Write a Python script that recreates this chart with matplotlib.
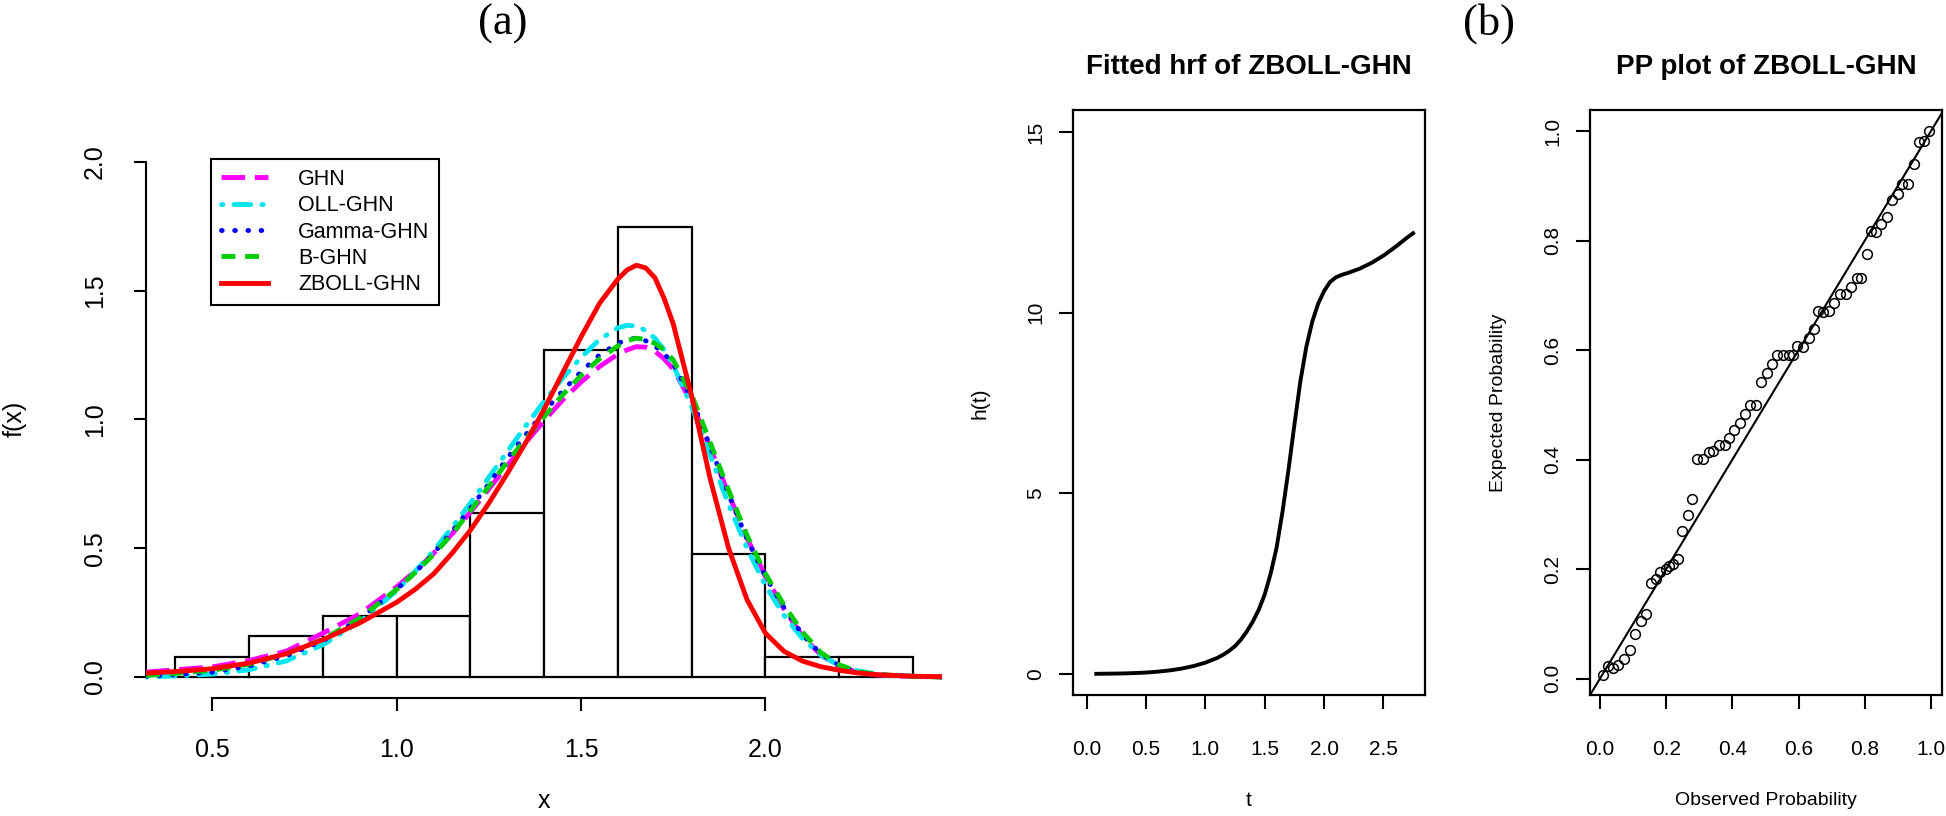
import matplotlib.pyplot as plt

plt.rcParams['font.family'] = ['Liberation Sans', 'DejaVu Sans']
plt.rcParams['lines.scale_dashes'] = False

# (a) histogram, density scale
bin_edges = [0.4, 0.6, 0.8, 1.0, 1.2, 1.4, 1.6, 1.8, 2.0, 2.2, 2.4]
density = [0.079, 0.159, 0.238, 0.238, 0.635, 1.270, 1.746, 0.476, 0.079, 0.079]

# fitted densities
x_fit = [0.32, 0.4, 0.5, 0.6, 0.7, 0.8, 0.9, 1.0, 1.05, 1.1, 1.15, 1.2, 1.25, 1.3,
         1.35, 1.4, 1.45, 1.5, 1.55, 1.6, 1.625, 1.65, 1.675, 1.7, 1.725, 1.75, 1.8,
         1.85, 1.9, 1.95, 2.0, 2.05, 2.1, 2.15, 2.2, 2.25, 2.3, 2.4, 2.48]
f_ghn = [0.019, 0.028, 0.039, 0.064, 0.10, 0.17, 0.245, 0.35, 0.41, 0.48, 0.555,
         0.64, 0.73, 0.82, 0.91, 0.995, 1.075, 1.145, 1.205, 1.253, 1.27, 1.282,
         1.28, 1.265, 1.235, 1.195, 1.065, 0.89, 0.71, 0.54, 0.39, 0.265, 0.16,
         0.085, 0.04, 0.018, 0.008, 0.002, 0.0]
f_oll = [0.0, 0.004, 0.011, 0.028, 0.062, 0.125, 0.215, 0.335, 0.41, 0.49, 0.58,
         0.675, 0.775, 0.875, 0.975, 1.07, 1.16, 1.24, 1.31, 1.355, 1.365, 1.362,
         1.345, 1.315, 1.27, 1.21, 1.05, 0.86, 0.67, 0.50, 0.355, 0.24, 0.15, 0.085,
         0.045, 0.024, 0.012, 0.003, 0.0]
f_gamma = [0.003, 0.009, 0.019, 0.043, 0.082, 0.14, 0.225, 0.34, 0.405, 0.48, 0.565,
           0.655, 0.75, 0.85, 0.94, 1.03, 1.11, 1.185, 1.25, 1.295, 1.31, 1.315,
           1.305, 1.285, 1.255, 1.215, 1.08, 0.895, 0.71, 0.535, 0.39, 0.27, 0.165,
           0.09, 0.045, 0.02, 0.009, 0.002, 0.0]
f_b = [0.006, 0.014, 0.026, 0.05, 0.09, 0.146, 0.228, 0.34, 0.405, 0.475, 0.555,
       0.645, 0.74, 0.835, 0.925, 1.01, 1.095, 1.17, 1.235, 1.285, 1.305, 1.315,
       1.31, 1.295, 1.27, 1.23, 1.095, 0.91, 0.725, 0.55, 0.40, 0.28, 0.175, 0.095,
       0.047, 0.021, 0.01, 0.002, 0.0]
f_zboll = [0.015, 0.021, 0.032, 0.054, 0.09, 0.145, 0.21, 0.29, 0.34, 0.40, 0.48,
           0.57, 0.675, 0.79, 0.91, 1.04, 1.18, 1.32, 1.45, 1.545, 1.58, 1.598,
           1.588, 1.55, 1.47, 1.37, 1.09, 0.77, 0.50, 0.30, 0.17, 0.10, 0.062, 0.04,
           0.026, 0.016, 0.009, 0.003, 0.001]

# hazard rate function of ZBOLL-GHN
t_vals = [0.08, 0.2, 0.3, 0.4, 0.5, 0.6, 0.7, 0.8, 0.9, 1.0, 1.1, 1.15, 1.2, 1.25,
          1.3, 1.35, 1.4, 1.45, 1.5, 1.55, 1.6, 1.65, 1.7, 1.75, 1.8, 1.85, 1.9,
          1.95, 2.0, 2.05, 2.1, 2.15, 2.2, 2.3, 2.4, 2.5, 2.6, 2.7, 2.75]
h_vals = [0.0, 0.005, 0.01, 0.02, 0.035, 0.06, 0.095, 0.145, 0.215, 0.31, 0.44,
          0.53, 0.635, 0.77, 0.95, 1.18, 1.45, 1.78, 2.2, 2.78, 3.5, 4.5, 5.65, 6.9,
          8.1, 9.05, 9.75, 10.25, 10.6, 10.85, 10.98, 11.05, 11.1, 11.22, 11.38,
          11.58, 11.82, 12.08, 12.2]

# PP plot points
pp_obs = [0.01, 0.025, 0.04, 0.055, 0.074, 0.09, 0.106, 0.123, 0.139, 0.153, 0.169,
          0.181, 0.198, 0.21, 0.222, 0.235, 0.248, 0.265, 0.279, 0.293, 0.31, 0.329,
          0.343, 0.361, 0.377, 0.391, 0.406, 0.423, 0.438, 0.454, 0.47, 0.486, 0.504,
          0.52, 0.536, 0.553, 0.57, 0.583, 0.595, 0.615, 0.631, 0.647, 0.66, 0.675,
          0.692, 0.708, 0.726, 0.743, 0.759, 0.776, 0.788, 0.806, 0.819, 0.835, 0.85,
          0.867, 0.884, 0.9, 0.912, 0.93, 0.948, 0.963, 0.978, 0.993]
pp_exp = [0.0065, 0.022, 0.02, 0.025, 0.035, 0.052, 0.081, 0.106, 0.117, 0.175, 0.182,
          0.195, 0.2, 0.205, 0.209, 0.218, 0.269, 0.298, 0.328, 0.401, 0.401, 0.414,
          0.415, 0.426, 0.426, 0.44, 0.455, 0.467, 0.483, 0.499, 0.499, 0.542, 0.559,
          0.575, 0.591, 0.591, 0.591, 0.591, 0.607, 0.606, 0.622, 0.638, 0.671, 0.669,
          0.671, 0.687, 0.703, 0.703, 0.716, 0.732, 0.732, 0.776, 0.818, 0.816, 0.831,
          0.844, 0.875, 0.886, 0.904, 0.904, 0.94, 0.98, 0.982, 1.0]

fig = plt.figure(figsize=(19.46, 8.16), dpi=100)

# ---------------- (a) ----------------
ax1 = fig.add_axes([0.075, 0.1451, 0.4093, 0.682])
widths = [bin_edges[i + 1] - bin_edges[i] for i in range(len(density))]
ax1.bar(bin_edges[:-1], density, width=widths, align='edge', color='white',
        edgecolor='black', linewidth=1.6, zorder=1)
ax1.plot(x_fit, f_ghn, color='#ff00ff', lw=3.5, dashes=(17, 7), label='GHN', zorder=3)
ax1.plot(x_fit, f_oll, color='#00e5ee', lw=3.5, dashes=(1, 8, 12, 8),
         dash_capstyle='round', label='OLL-GHN', zorder=3)
ax1.plot(x_fit, f_gamma, color='#0000ff', lw=3.5, dashes=(0.5, 9),
         dash_capstyle='round', label='Gamma-GHN', zorder=3)
ax1.plot(x_fit, f_b, color='#00cd00', lw=3.5, dashes=(10, 7), label='B-GHN', zorder=3)
ax1.plot(x_fit, f_zboll, color='#ff0000', lw=3.5, label='ZBOLL-GHN', zorder=4)
ax1.set_xlim(0.32, 2.48)
ax1.set_ylim(-0.08, 2.08)
ax1.spines['top'].set_visible(False)
ax1.spines['right'].set_visible(False)
ax1.spines['left'].set_bounds(0, 2)
ax1.spines['bottom'].set_bounds(0.5, 2.0)
for s in ['left', 'bottom']:
    ax1.spines[s].set_linewidth(1.5)
ax1.set_xticks([0.5, 1.0, 1.5, 2.0])
ax1.set_xticklabels(['0.5', '1.0', '1.5', '2.0'])
ax1.set_yticks([0, 0.5, 1.0, 1.5, 2.0])
ax1.set_yticklabels(['0.0', '0.5', '1.0', '1.5', '2.0'], rotation=90, va='center')
ax1.tick_params(axis='both', direction='out', length=9, width=1.5, labelsize=18)
ax1.tick_params(axis='x', pad=20)
ax1.tick_params(axis='y', pad=19)
ax1.set_xlabel('x', fontsize=18)
ax1.xaxis.set_label_coords(0.5, -0.186)
ax1.xaxis.label.set_verticalalignment('center')
ax1.set_ylabel('f(x)', fontsize=18)
ax1.yaxis.set_label_coords(-0.1645, 0.5)
ax1.yaxis.label.set_verticalalignment('center')
leg = ax1.legend(loc='upper left', bbox_to_anchor=(0.0816, 0.9677), borderaxespad=0,
                 fontsize=15.5, handlelength=2.2, handletextpad=1.4, labelspacing=0.25,
                 borderpad=0.45, fancybox=False, edgecolor='black', framealpha=1)
leg.get_frame().set_linewidth(1.5)

# ---------------- hrf ----------------
ax2 = fig.add_axes([0.5514, 0.1477, 0.1809, 0.7169])
ax2.plot(t_vals, h_vals, color='black', lw=2.8)
ax2.set_xlim(-0.116, 2.851)
ax2.set_ylim(-0.6, 15.6)
ax2.set_xticks([0, 0.5, 1.0, 1.5, 2.0, 2.5])
ax2.set_xticklabels(['0.0', '0.5', '1.0', '1.5', '2.0', '2.5'])
ax2.set_yticks([0, 5, 10, 15])
ax2.set_yticklabels(['0', '5', '10', '15'], rotation=90, va='center')
ax2.set_title('Fitted hrf of ZBOLL-GHN', fontsize=20, fontweight='bold', pad=26)
ax2.set_xlabel('t', fontsize=15)
ax2.xaxis.set_label_coords(0.5, -0.180)
ax2.xaxis.label.set_verticalalignment('center')
ax2.set_ylabel('h(t)', fontsize=15)
ax2.yaxis.set_label_coords(-0.264, 0.5)
ax2.yaxis.label.set_verticalalignment('center')

# ---------------- PP plot ----------------
ax3 = fig.add_axes([0.8171, 0.1477, 0.1809, 0.7169])
ax3.plot([-0.1, 1.1], [-0.1, 1.1], color='black', lw=1.5)
ax3.plot(pp_obs, pp_exp, 'o', mfc='none', mec='black', ms=7, mew=1.1)
ax3.set_xlim(-0.030, 1.034)
ax3.set_ylim(-0.031, 1.038)
ax3.set_xticks([0, 0.2, 0.4, 0.6, 0.8, 1.0])
ax3.set_xticklabels(['0.0', '0.2', '0.4', '0.6', '0.8', '1.0'])
ax3.set_yticks([0, 0.2, 0.4, 0.6, 0.8, 1.0])
ax3.set_yticklabels(['0.0', '0.2', '0.4', '0.6', '0.8', '1.0'], rotation=90, va='center')
ax3.set_title('PP plot of ZBOLL-GHN', fontsize=20, fontweight='bold', pad=26)
ax3.set_xlabel('Observed Probability', fontsize=14)
ax3.xaxis.set_label_coords(0.5, -0.180)
ax3.xaxis.label.set_verticalalignment('center')
ax3.set_ylabel('Expected Probability', fontsize=14)
ax3.yaxis.set_label_coords(-0.261, 0.5)
ax3.yaxis.label.set_verticalalignment('center')

for ax in [ax2, ax3]:
    for s in ax.spines.values():
        s.set_linewidth(1.6)
    ax.tick_params(axis='both', direction='out', length=10, width=1.5, labelsize=15)
    ax.tick_params(axis='x', pad=22)
    ax.tick_params(axis='y', pad=10)

fig.text(503 / 1946, 1 - 24 / 816, '(a)', family='Liberation Serif', fontsize=32,
         ha='center', va='center')
fig.text(1489 / 1946, 1 - 24 / 816, '(b)', family='Liberation Serif', fontsize=32,
         ha='center', va='center')

fig.savefig('out.png', dpi=100)
